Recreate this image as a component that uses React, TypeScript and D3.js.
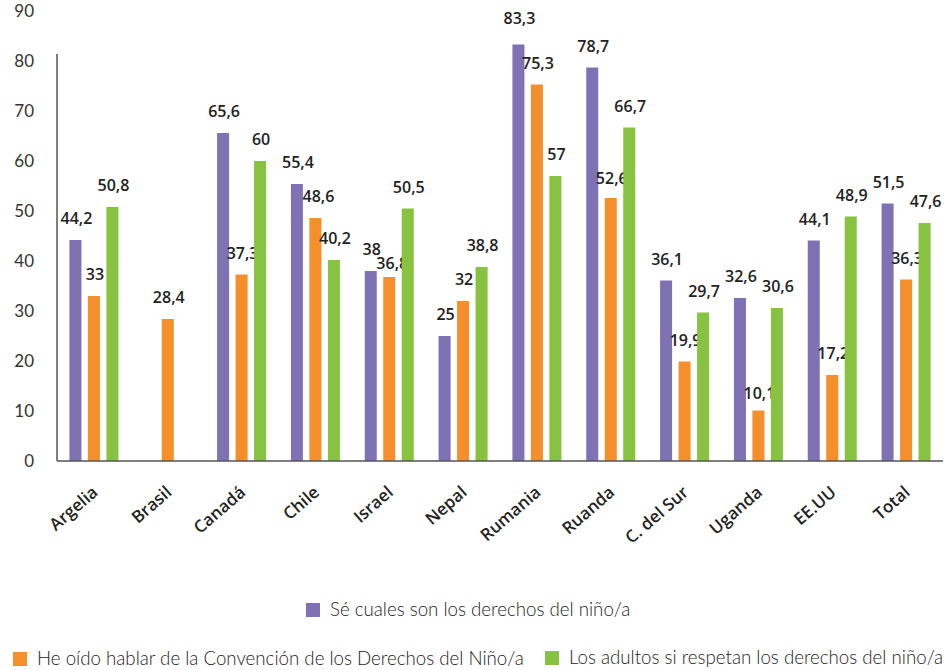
import React from "react";
import * as d3 from "d3";

const categories = ["Argelia", "Brasil", "Canadá", "Chile", "Israel", "Nepal", "Rumania", "Ruanda", "C. del Sur", "Uganda", "EE.UU", "Total"];
const seriesNames = [
  "Sé cuales son los derechos del niño/a",
  "He oído hablar de la Convención de los Derechos del Niño/a",
  "Los adultos si respetan los derechos del niño/a",
];
const seriesColors = ["#7E72B4", "#F58F2C", "#87C241"];
const seriesKnow: (number | null)[] = [44.2, null, 65.6, 55.4, 38, 25, 83.3, 78.7, 36.1, 32.6, 44.1, 51.5];
const seriesHeard: (number | null)[] = [33, 28.4, 37.3, 48.6, 36.8, 32, 75.3, 52.6, 19.9, 10.1, 17.2, 36.3];
const seriesRespect: (number | null)[] = [50.8, null, 60, 40.2, 50.5, 38.8, 57, 66.7, 29.7, 30.6, 48.9, 47.6];
const yTicks = [0, 10, 20, 30, 40, 50, 60, 70, 80, 90];

// small manual nudges of value labels (dx, dy) as in the reference
const labelNudge: Record<string, [number, number]> = {
  "Israel-1": [2, 8],
  "Chile-1": [2, 0],
  "Uganda-1": [0, 4],
  "Ruanda-1": [0, 2],
  "Rumania-0": [0, -5],
};

const W = 947;
const H = 670;

const fmt = (v: number) => String(v).replace(".", ",");

export default function App() {
  const series = [seriesKnow, seriesHeard, seriesRespect];
  const x = d3.scaleBand<string>().domain(categories).range([57, 943]).padding(0);
  const sub = d3
    .scaleBand<number>()
    .domain([0, 1, 2])
    .range([-24.5, 24.5])
    .paddingInner(0.35)
    .paddingOuter(0);
  const y = d3.scaleLinear().domain([0, 90]).range([461, 11]);

  return (
    <svg width={W} height={H} style={{ position: "absolute", left: 0, top: 0, background: "#fff" }}>
      {yTicks.map((t) => (
        <text
          key={t}
          x={34}
          y={y(t) + 2}
          textAnchor="end"
          dominantBaseline="middle"
          fontFamily="Lato, sans-serif"
          fontSize={17}
          fill="#333"
        >
          {t}
        </text>
      ))}
      {categories.map((c, i) => {
        const cx = (x(c) as number) + x.bandwidth() / 2;
        return (
          <g key={c}>
            {series.map((s, k) => {
              const v = s[i];
              if (v == null) return null;
              const bx = cx + (sub(k) as number);
              const [ndx, ndy] = labelNudge[`${c}-${k}`] || [0, 0];
              return (
                <g key={k}>
                  <rect x={bx} y={y(v)} width={sub.bandwidth()} height={y(0) - y(v)} fill={seriesColors[k]} />
                  <text
                    x={bx + sub.bandwidth() / 2 + 1 + ndx}
                    y={y(v) - 16 + ndy}
                    textAnchor="middle"
                    fontFamily="'Open Sans', sans-serif"
                    fontWeight={600}
                    fontSize={16}
                    fill="#222"
                  >
                    {fmt(v)}
                  </text>
                </g>
              );
            })}
            <text
              transform={`translate(${cx + 5},${494}) rotate(-41)`}
              textAnchor="end"
              fontFamily="'Open Sans', sans-serif"
              fontWeight={600}
              fontSize={17}
              fill="#222"
            >
              {c}
            </text>
          </g>
        );
      })}
      <line x1={57} x2={57} y1={54} y2={y(0)} stroke="#555" strokeWidth={1.5} />
      <line x1={57} x2={943} y1={y(0)} y2={y(0)} stroke="#555" strokeWidth={1.5} />
      {[
        { k: 0, sx: 306, sy: 603 },
        { k: 1, sx: 13, sy: 652 },
        { k: 2, sx: 545, sy: 651 },
      ].map(({ k, sx, sy }) => (
        <g key={k}>
          <rect x={sx} y={sy} width={14} height={14} fill={seriesColors[k]} />
          <text
            x={sx + 24}
            y={sy + 8}
            dominantBaseline="middle"
            fontFamily="Lato, sans-serif"
            fontWeight={300}
            fontSize={18.7}
            fill="#222"
          >
            {seriesNames[k]}
          </text>
        </g>
      ))}
    </svg>
  );
}
